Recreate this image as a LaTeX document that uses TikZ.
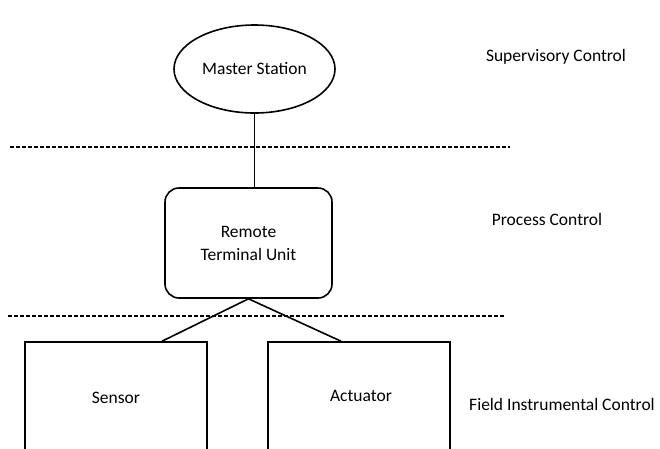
\documentclass[tikz,border=0pt]{standalone}
\usepackage{fontspec}
\setmainfont{Carlito}
\usetikzlibrary{shapes.geometric}

\begin{document}
\begin{tikzpicture}[x=1pt, y=-1pt, font=\fontsize{17.5}{21}\selectfont,
  box/.style={draw, line width=1.6pt, inner sep=0pt},
  layer/.style={dashed, line width=1.3pt, dash pattern=on 4pt off 2pt}]

\clip (0, 0) rectangle (660, 448);
\useasboundingbox (0, 0) rectangle (660, 448);

\node[box, ellipse, minimum width=161pt, minimum height=88pt] (M) at (254.5, 69) {Master Station};
\node[box, rounded corners=14pt, minimum width=167pt, minimum height=110pt, align=center] (R) at (248.5, 243) {Remote\\[2pt]Terminal Unit};
\node[box, minimum width=182pt, minimum height=130pt] (S) at (116, 407) {};
\node[box, minimum width=182pt, minimum height=130pt] (A) at (359, 407) {};
\node (Stxt) at (116, 398) {Sensor};
\node (Atxt) at (361, 396) {Actuator};

\node (L1) at (556, 57) {Supervisory Control};
\node (L2) at (547, 219) {Process Control};
\node (L3) at (562, 404) {Field Instrumental Control};

\coordinate (D1a) at (10, 147);
\coordinate (D1b) at (510, 147);
\coordinate (D2a) at (8, 316);
\coordinate (D2b) at (505, 316);

\draw[layer] (D1a) -- (D1b);
\draw[layer] (D2a) -- (D2b);

\draw[line width=1.6pt] (M.south) -- (M.south |- R.north);
\draw[line width=1.6pt] (R.south) -- ([xshift=46pt]S.north);
\draw[line width=1.6pt] (R.south) -- ([xshift=-18pt]A.north);

\end{tikzpicture}
\end{document}
